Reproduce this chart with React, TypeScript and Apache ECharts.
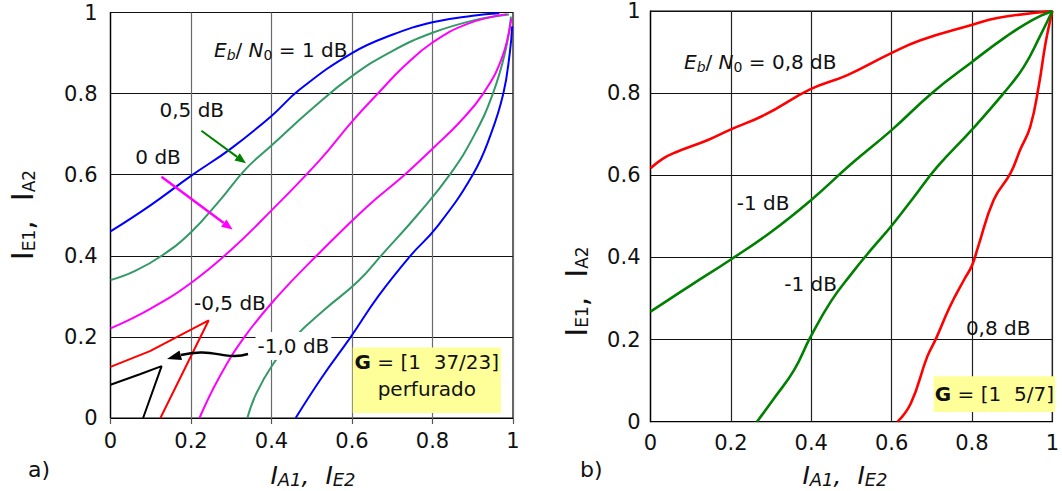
import React, { useEffect, useRef } from "react";
import * as echarts from "echarts";

const FONT = "DejaVu Sans";

// ---------- (a) G = [1 37/23] perfurado ----------
// decoder 1 transfer curves (I_E1 vs I_A1)
const a_blue1dB_dec1: number[][] = [[0, 0.46], [0.1, 0.525], [0.2, 0.597], [0.3, 0.665], [0.4, 0.745], [0.47, 0.81], [0.6, 0.9], [0.7, 0.945], [0.8, 0.976], [0.9, 0.992], [0.966, 0.998]];
const a_green05dB_dec1: number[][] = [[0, 0.34], [0.06, 0.362], [0.13, 0.402], [0.2, 0.458], [0.27, 0.535], [0.337, 0.615], [0.4, 0.672], [0.5, 0.762], [0.6, 0.843], [0.7, 0.905], [0.8, 0.95], [0.9, 0.98], [0.99, 0.995]];
const a_magenta0dB_dec1: number[][] = [[0, 0.221], [0.1, 0.27], [0.2, 0.333], [0.3, 0.415], [0.4, 0.512], [0.52, 0.636], [0.6, 0.731], [0.666, 0.802], [0.73, 0.868], [0.8, 0.926], [0.887, 0.972], [0.985, 0.996]];
// decoder 2 transfer curves (I_A2 on y, I_E2 on x)
const a_blue1dB_dec2: number[][] = [[0.46, 0], [0.525, 0.1], [0.597, 0.2], [0.665, 0.3], [0.745, 0.4], [0.81, 0.47], [0.9, 0.6], [0.945, 0.7], [0.976, 0.8], [0.992, 0.9], [0.998, 0.966]];
const a_green05dB_dec2: number[][] = [[0.34, 0], [0.362, 0.06], [0.402, 0.13], [0.458, 0.2], [0.535, 0.27], [0.615, 0.337], [0.672, 0.4], [0.762, 0.5], [0.843, 0.6], [0.905, 0.7], [0.95, 0.8], [0.98, 0.9], [0.995, 0.99]];
const a_magenta0dB_dec2: number[][] = [[0.221, 0], [0.27, 0.1], [0.333, 0.2], [0.415, 0.3], [0.512, 0.4], [0.636, 0.52], [0.731, 0.6], [0.802, 0.666], [0.868, 0.73], [0.926, 0.8], [0.972, 0.887], [0.996, 0.985]];
// low-SNR curves that cross (closed tunnel)
const a_red_m05dB: number[][] = [[0, 0.126], [0.098, 0.165], [0.2, 0.218], [0.244, 0.241], [0.124, 0]];
const a_black_m10dB: number[][] = [[0, 0.082], [0.073, 0.108], [0.127, 0.128], [0.081, 0]];

// ---------- (b) G = [1 5/7] ----------
const b_red08dB_dec1: number[][] = [[0, 0.617], [0.03, 0.64], [0.06, 0.655], [0.143, 0.686], [0.196, 0.71], [0.284, 0.747], [0.397, 0.809], [0.49, 0.844], [0.598, 0.897], [0.672, 0.929], [0.799, 0.966], [0.863, 0.983], [1, 1]];
const b_red08dB_dec2: number[][] = [[0.615, 0], [0.648, 0.045], [0.689, 0.159], [0.71, 0.201], [0.745, 0.28], [0.78, 0.345], [0.8, 0.38], [0.815, 0.425], [0.854, 0.54], [0.896, 0.605], [0.92, 0.662], [0.945, 0.718], [0.966, 0.816], [0.983, 0.921], [1, 1]];
const b_green_m1dB_dec1: number[][] = [[0, 0.268], [0.1, 0.332], [0.2, 0.395], [0.3, 0.462], [0.4, 0.54], [0.5, 0.628], [0.6, 0.71], [0.7, 0.8], [0.8, 0.876], [0.884, 0.937], [0.95, 0.978], [1, 1]];
const b_green_m1dB_dec2: number[][] = [[0.265, 0], [0.31, 0.06], [0.358, 0.127], [0.397, 0.204], [0.449, 0.293], [0.5, 0.36], [0.55, 0.42], [0.6, 0.477], [0.65, 0.54], [0.714, 0.621], [0.799, 0.71], [0.879, 0.8], [0.929, 0.864], [0.97, 0.94], [1, 1]];

const axisTicks = [0, 0.2, 0.4, 0.6, 0.8, 1];

function arrow(x1: number, y1: number, x2: number, y2: number, color: string, w: number, hl: number, hw: number) {
  const dx = x2 - x1, dy = y2 - y1, L = Math.hypot(dx, dy);
  const ux = dx / L, uy = dy / L;
  const bx = x2 - ux * hl, by = y2 - uy * hl;
  return [
    { type: "line", z: 20, shape: { x1, y1, x2: bx, y2: by }, style: { stroke: color, lineWidth: w } },
    { type: "polygon", z: 20, shape: { points: [[x2, y2], [bx - uy * hw, by + ux * hw], [bx + uy * hw, by - ux * hw]] }, style: { fill: color } },
  ];
}

const richSmall = {
  n: { fontFamily: FONT, fontSize: 20, lineHeight: 22, fill: "#111" },
  i: { fontFamily: FONT, fontSize: 20, lineHeight: 22, fontStyle: "italic", fill: "#111" },
  si: { fontFamily: FONT, fontSize: 14, lineHeight: 22, fontStyle: "italic", verticalAlign: "top", padding: [8.5, 0, 0, 0], fill: "#111" },
  s: { fontFamily: FONT, fontSize: 14, lineHeight: 22, verticalAlign: "top", padding: [8.5, 0, 0, 0], fill: "#111" },
  b: { fontFamily: FONT, fontSize: 20, lineHeight: 22, fontWeight: "bold", fill: "#111" },
};

function label(x: number, y: number, text: string, align = "left", extra: any = {}) {
  return {
    type: "text", z: 30, x, y,
    style: Object.assign({
      text, rich: richSmall, fontFamily: FONT, fontSize: 20, fill: "#111",
      align, verticalAlign: "middle", textAlign: align, textVerticalAlign: "middle",
    }, extra),
  };
}

const richYTitle = {
  m: { fontFamily: FONT, fontSize: 30, lineHeight: 32, fill: "#111" },
  s: { fontFamily: FONT, fontSize: 17, lineHeight: 32, verticalAlign: "top", padding: [13.4, 0, 0, 0], fill: "#111" },
};
const richXTitle = {
  m: { fontFamily: FONT, fontSize: 25, lineHeight: 26, fontStyle: "italic", fill: "#111" },
  s: { fontFamily: FONT, fontSize: 18, lineHeight: 26, fontStyle: "italic", verticalAlign: "top", padding: [8.5, 0, 0, 0], fill: "#111" },
};

function yTitle(x: number, y: number) {
  return {
    type: "text", z: 30, x, y, rotation: Math.PI / 2,
    style: { text: "{m|I}{s|E1}{m|,  }{m|I}{s|A2}", rich: richYTitle, align: "center", verticalAlign: "middle", textAlign: "center", textVerticalAlign: "middle" },
  };
}
function xTitle(x: number, y: number) {
  return {
    type: "text", z: 30, x, y,
    style: { text: "{m|I}{s|A1}{m|,  }{m|I}{s|E2}", rich: richXTitle, align: "center", verticalAlign: "middle", textAlign: "center", textVerticalAlign: "middle" },
  };
}

export default function App() {
  const ref = useRef<HTMLDivElement>(null);
  useEffect(() => {
    if (!ref.current) return;
    const chart = echarts.init(ref.current, null, { renderer: "svg" });
    const labelStyle = { fontFamily: FONT, fontSize: 21, color: "#111" };
    const fmt = (v: number) => String(axisTicks.find((t) => Math.abs(t - v) < 1e-6) ?? v);
    const mkX = (gi: number, grey: string, ticks: boolean, margin: number) => ({
      type: "value", gridIndex: gi, min: 0, max: 1, interval: 0.2,
      axisLine: { show: true, lineStyle: { color: "#000", width: 1.2 } },
      axisTick: { show: ticks, length: 6, lineStyle: { color: "#555", width: 1.2 } },
      axisLabel: { ...labelStyle, margin, formatter: fmt },
      splitLine: { show: true, lineStyle: { color: grey, width: 1.2 } },
    });
    const mkY = (gi: number, margin: number) => ({
      type: "value", gridIndex: gi, min: 0, max: 1, interval: 0.2,
      axisLine: { show: true, lineStyle: { color: "#000", width: 1.2 } },
      axisTick: { show: false },
      axisLabel: { ...labelStyle, margin, formatter: fmt },
      splitLine: { show: true, lineStyle: { color: "#111", width: 1 } },
    });
    const ln = (data: number[][], color: string, gi: number, width: number, smooth: number | boolean) => ({
      type: "line", xAxisIndex: gi, yAxisIndex: gi, data, symbol: "none", showSymbol: false, smooth,
      lineStyle: { color, width }, silent: true, z: 3,
    });

    const graphic: any[] = [
      // panel (a)
      label(214, 50, "{i|E}{si|b}{n|/ }{i|N}{s|0}{n| = 1 dB}"),
      label(159.5, 110, "0,5 dB"),
      label(135.3, 157, "0 dB"),
      ...arrow(201.4, 130.8, 246, 163.3, "#008000", 2, 11, 4.5),
      ...arrow(161.5, 176.7, 232.6, 229.6, "#ff00ff", 2.5, 11, 4.5),
      label(194, 303, "-0,5 dB"),
      label(255.5, 346, "-1,0 dB", "left", { backgroundColor: "#fff", padding: [4, 2, 4, 2] }),
      { type: "bezierCurve", z: 20, shape: { x1: 248, y1: 354, cpx1: 226, cpy1: 361, cpx2: 212, cpy2: 347, x2: 181, y2: 355 }, style: { stroke: "#000", lineWidth: 2.5, fill: null } },
      { type: "polygon", z: 20, shape: { points: [[167, 359], [179.5, 350.5], [182, 360]] }, style: { fill: "#000" } },
      { type: "rect", z: 25, shape: { x: 352.7, y: 347.4, width: 148.2, height: 65.6 }, style: { fill: "#ffff99" } },
      label(426.8, 362, "{b|G}{n| = [1\u00a0\u00a037/23]}", "center"),
      label(426.8, 388.5, "perfurado", "center"),
      yTitle(22.7, 215),
      xTitle(313, 475),
      { type: "text", z: 30, x: 28, y: 469.5, style: { text: "a)", fontFamily: FONT, fontSize: 22, fill: "#111", align: "left", verticalAlign: "middle", textAlign: "left", textVerticalAlign: "middle" } },
      // panel (b)
      label(684, 62, "{i|E}{si|b}{n|/ }{i|N}{s|0}{n| = 0,8 dB}"),
      label(736.7, 203, "-1 dB"),
      label(784.3, 283.5, "-1 dB"),
      label(965.9, 327.5, "0,8 dB"),
      { type: "rect", z: 25, shape: { x: 933.6, y: 376.2, width: 121.6, height: 35.8 }, style: { fill: "#ffff99" } },
      label(994.4, 394, "{b|G}{n| = [1\u00a0\u00a05/7]}", "center"),
      yTitle(576, 291.5),
      xTitle(845, 475),
      { type: "text", z: 30, x: 580, y: 469.5, style: { text: "b)", fontFamily: FONT, fontSize: 22, fill: "#111", align: "left", verticalAlign: "middle", textAlign: "left", textVerticalAlign: "middle" } },
    ];

    chart.setOption({
      animation: false,
      backgroundColor: "#fff",
      grid: [
        { left: 110.5, top: 12.5, width: 402.5, height: 405.5, show: true, borderColor: "#000", borderWidth: 1.2, backgroundColor: "transparent" },
        { left: 650.5, top: 11, width: 410.5, height: 410.7, show: true, borderColor: "#000", borderWidth: 1.2, backgroundColor: "transparent" },
      ],
      xAxis: [mkX(0, "#6a6a6a", true, 12), mkX(1, "#222", false, 11)],
      yAxis: [mkY(0, 13), mkY(1, 10)],
      series: [
        ln(a_blue1dB_dec1, "#0000ff", 0, 2, 0.45),
        ln(a_blue1dB_dec2, "#0000ff", 0, 2, 0.45),
        ln(a_green05dB_dec1, "#339966", 0, 2, 0.45),
        ln(a_green05dB_dec2, "#339966", 0, 2, 0.45),
        ln(a_magenta0dB_dec1, "#ff00ff", 0, 2, 0.45),
        ln(a_magenta0dB_dec2, "#ff00ff", 0, 2, 0.45),
        ln(a_red_m05dB, "#ff0000", 0, 2, false),
        ln(a_black_m10dB, "#000000", 0, 2, false),
        ln(b_red08dB_dec1, "#ff0000", 1, 2.6, 0.45),
        ln(b_red08dB_dec2, "#ff0000", 1, 2.6, 0.45),
        ln(b_green_m1dB_dec1, "#008000", 1, 2.6, 0.45),
        ln(b_green_m1dB_dec2, "#008000", 1, 2.6, 0.45),
      ],
      graphic,
    });
    return () => chart.dispose();
  }, []);
  return <div ref={ref} style={{ position: "fixed", left: 0, top: 0, width: 1062, height: 491, background: "#fff" }} />;
}
